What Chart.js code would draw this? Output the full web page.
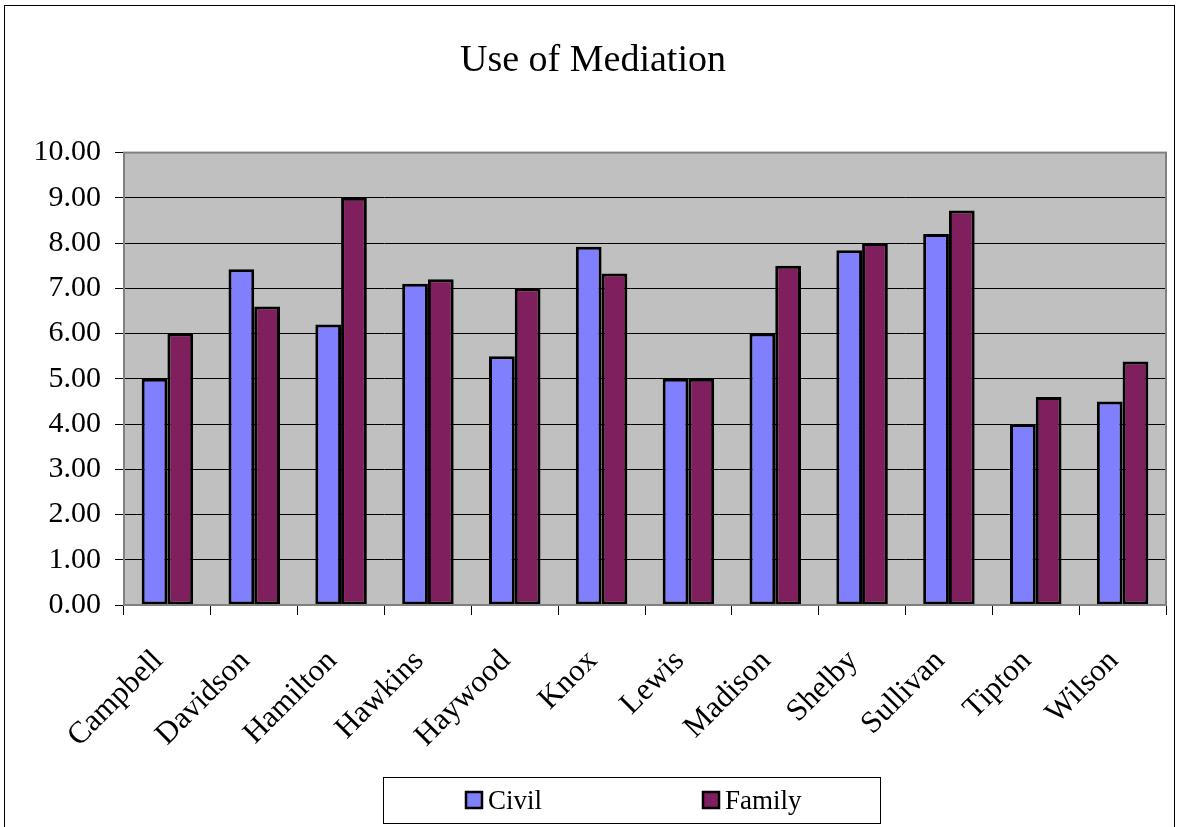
<!DOCTYPE html>
<html>
<head>
<meta charset="utf-8">
<title>Use of Mediation</title>
<script src="https://cdn.jsdelivr.net/npm/chart.js@4/dist/chart.umd.min.js"></script>
<style>
  html, body { margin: 0; padding: 0; background: #ffffff; }
  #wrap { position: relative; width: 1178px; height: 827px; }
</style>
</head>
<body>
<div id="wrap"><canvas id="mediationChart" width="1178" height="827"></canvas></div>
<script>
const counties = ["Campbell", "Davidson", "Hamilton", "Hawkins", "Haywood", "Knox",
                  "Lewis", "Madison", "Shelby", "Sullivan", "Tipton", "Wilson"];
const civil  = [5.00, 7.42, 6.20, 7.10, 5.50, 7.92, 5.00, 6.00, 7.84, 8.20, 4.00, 4.50];
const family = [6.00, 6.60, 9.00, 7.20, 7.00, 7.33, 5.00, 7.50, 8.00, 8.72, 4.60, 5.38];
const yTicks = [0, 1, 2, 3, 4, 5, 6, 7, 8, 9, 10];

const serif = "'Liberation Serif', 'Times New Roman', serif";

// grey plot area, outer frame and the boxed legend
const excelLook = {
    id: "excelLook",
    beforeDraw(chart){
        const { ctx, chartArea: a } = chart;
        ctx.save();
        ctx.fillStyle = "#c0c0c0";
        ctx.fillRect(a.left, a.top, a.right - a.left, a.bottom - a.top);
        ctx.restore();
    },
    afterDatasetsDraw(chart){
        const { ctx, chartArea: a } = chart;
        ctx.save();
        ctx.strokeStyle = "#808080";
        ctx.lineWidth = 2;
        ctx.strokeRect(a.left, a.top, a.right - a.left, a.bottom - a.top);
        ctx.restore();
    },
    afterDraw(chart){
        const ctx = chart.ctx;
        ctx.save();

        // frame round the whole chart
        ctx.strokeStyle = "#000000";
        ctx.lineWidth = 1;
        ctx.strokeRect(4.5, 5.5, 1170, 900);

        // legend box
        ctx.fillStyle = "#ffffff";
        ctx.fillRect(383, 777, 497, 46);
        ctx.strokeRect(383.5, 777.5, 497, 46);

        const itemX = [466, 703];
        ctx.font = "27px " + serif;
        ctx.textBaseline = "alphabetic";
        chart.data.datasets.forEach((ds, i) => {
            const x = itemX[i];
            ctx.fillStyle = ds.backgroundColor;
            ctx.fillRect(x, 792, 16, 16);
            ctx.lineWidth = 2.5;
            ctx.strokeStyle = "#000000";
            ctx.strokeRect(x, 792, 16, 16);
            ctx.fillStyle = "#000000";
            ctx.fillText(ds.label, x + 22, 809);
        });
        ctx.restore();
    }
};

const ctx = document.getElementById("mediationChart").getContext("2d");

new Chart(ctx, {
    type: "bar",
    data: {
        labels: counties,
        datasets: [
            {
                label: "Civil",
                data: civil,
                backgroundColor: "#8080ff",
                borderColor: "#000000",
                borderWidth: 3,
                borderSkipped: false
            },
            {
                label: "Family",
                data: family,
                backgroundColor: "#801f5e",
                borderColor: "#000000",
                borderWidth: 3,
                borderSkipped: false
            }
        ]
    },
    options: {
        responsive: false,
        animation: false,
        layout: {
            padding: { left: 20, right: 12, top: 0, bottom: 0 }
        },
        datasets: {
            bar: {
                categoryPercentage: 0.593,
                barPercentage: 1.0
            }
        },
        plugins: {
            legend: { display: false },
            tooltip: { enabled: false },
            title: {
                display: true,
                text: "Use of Mediation",
                color: "#000000",
                font: { family: serif, size: 38, weight: "normal" },
                padding: { top: 38, bottom: 69 }
            }
        },
        scales: {
            x: {
                offset: true,
                grid: {
                    offset: true,
                    drawOnChartArea: false,
                    drawTicks: true,
                    tickLength: 10,
                    color: "#000000"
                },
                border: { display: false },
                ticks: {
                    color: "#000000",
                    font: { family: serif, size: 31 },
                    minRotation: 45,
                    maxRotation: 45,
                    padding: 28,
                    labelOffset: -9,
                    autoSkip: false
                },
                afterFit(scale){
                    scale.height = 222;
                }
            },
            y: {
                min: 0,
                max: 10,
                afterBuildTicks(scale){
                    scale.ticks = yTicks.map(v => ({ value: v }));
                },
                grid: {
                    color: "#000000",
                    lineWidth: 1,
                    drawTicks: true,
                    tickLength: 9
                },
                border: { display: false },
                ticks: {
                    color: "#000000",
                    font: { family: serif, size: 30 },
                    padding: 14,
                    callback: value => Number(value).toFixed(2)
                },
                afterFit(scale){
                    scale.width = 104;
                }
            }
        }
    },
    plugins: [excelLook]
});
</script>
</body>
</html>
